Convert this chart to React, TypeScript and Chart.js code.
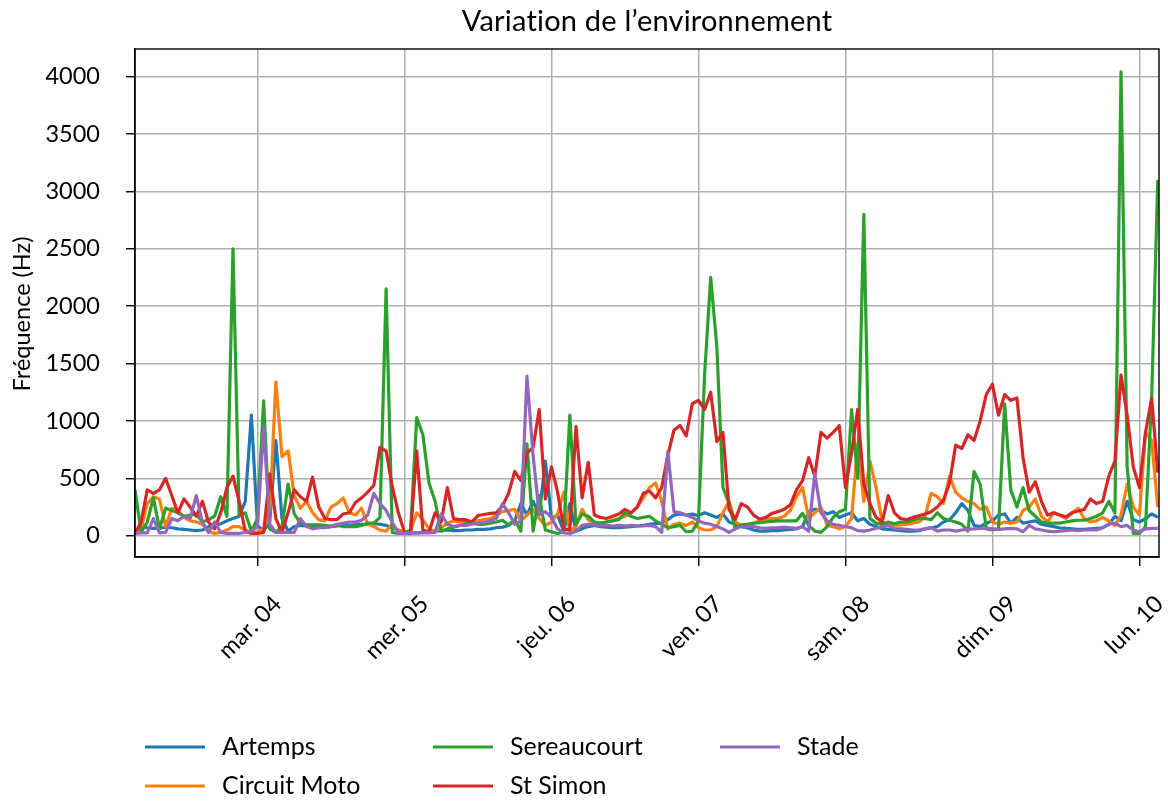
import { useEffect, useRef } from "react";
import { Chart, registerables } from "chart.js";

Chart.register(...registerables);

// Hourly samples, hour index 0 = Mon 3 March 04:00
const hours: number[] = Array.from({ length: 168 }, (_, i) => i);

const tickHours = [20, 44, 68, 92, 116, 140, 164];
const tickLabels = ["mar. 04", "mer. 05", "jeu. 06", "ven. 07", "sam. 08", "dim. 09", "lun. 10"];
const yTicks = [0, 500, 1000, 1500, 2000, 2500, 3000, 3500, 4000];

const TITLE = "Variation de l\u2019environnement";
const Y_TITLE = "Fréquence (Hz)";

const artemps = [
  40, 80, 70, 65, 65, 75, 70, 60, 55, 50, 45, 50, 80, 90, 105, 130, 150, 170, 300, 1050,
  90, 40, 120, 830, 150, 40, 80, 90, 85, 80, 75, 75, 80, 85, 90, 90, 95, 100, 100, 105,
  100, 90, 70, 50, 30, 25, 25, 30, 35, 40, 45, 50, 45, 45, 50, 50, 55, 55, 60, 70,
  75, 90, 130, 280, 180, 300, 180, 650, 150, 180, 40, 280, 40, 60, 80, 90, 80, 75, 70, 70,
  75, 80, 85, 90, 100, 105, 110, 140, 180, 190, 180, 190, 175, 200, 180, 160, 190, 120, 100, 80,
  70, 50, 40, 40, 45, 45, 50, 55, 60, 80, 210, 230, 220, 190, 210, 160, 180, 200, 130, 150,
  100, 80, 60, 55, 50, 45, 40, 40, 45, 60, 70, 80, 120, 140, 200, 280, 220, 90, 80, 110,
  130, 180, 190, 110, 160, 110, 120, 130, 100, 90, 80, 70, 65, 60, 55, 55, 60, 65, 70, 100,
  170, 130, 300, 140, 120, 150, 190, 160,
];

const circuitMoto = [
  20, 60, 280, 340, 320, 80, 240, 220, 160, 130, 120, 100, 40, 20, 30, 50, 80, 80, 50, 30,
  35, 60, 200, 1340, 690, 740, 350, 240, 300, 200, 140, 130, 250, 280, 330, 200, 180, 240, 100, 80,
  50, 40, 100, 40, 30, 40, 200, 140, 60, 40, 70, 110, 130, 120, 125, 120, 130, 140, 150, 180,
  210, 220, 230, 130, 180, 230, 150, 90, 120, 190, 380, 40, 80, 230, 140, 100, 110, 120, 135, 150,
  170, 200, 250, 330, 420, 460, 300, 60, 100, 110, 90, 120, 70, 50, 50, 80, 200, 300, 120, 90,
  90, 110, 130, 140, 150, 150, 170, 220, 340, 420, 150, 200, 250, 90, 80, 60, 80, 150, 800, 300,
  650, 420, 120, 90, 90, 95, 100, 110, 120, 170, 370, 340, 280, 520, 380, 330, 300, 280, 230, 250,
  120, 100, 120, 110, 120, 220, 250, 320, 170, 120, 200, 180, 150, 200, 240, 150, 120, 130, 160, 130,
  90, 180, 450, 250, 180, 900, 830, 250,
];

const sereaucourt = [
  400, 30, 120, 330, 60, 240, 220, 200, 170, 180, 190, 120, 140, 170, 340, 170, 2500, 180, 200, 40,
  150, 1175, 60, 30, 80, 450, 190, 110, 95, 95, 95, 90, 85, 95, 80, 80, 80, 90, 110, 110,
  160, 2150, 30, 20, 25, 50, 1030, 880, 460, 300, 40, 60, 75, 90, 105, 110, 100, 100, 110, 120,
  135, 95, 140, 40, 800, 40, 350, 50, 35, 20, 35, 1050, 100, 190, 170, 120, 110, 120, 130, 140,
  200, 170, 150, 160, 170, 130, 100, 70, 80, 90, 35, 40, 130, 1400, 2250, 1650, 420, 280, 60, 95,
  100, 110, 115, 120, 125, 130, 130, 130, 130, 195, 90, 40, 30, 80, 160, 210, 230, 1100, 500, 2800,
  150, 110, 100, 120, 105, 120, 120, 135, 150, 150, 140, 200, 150, 135, 120, 100, 40, 560, 450, 60,
  50, 60, 1150, 400, 250, 420, 220, 170, 120, 110, 110, 110, 120, 130, 135, 135, 150, 170, 200, 300,
  200, 4040, 600, 20, 20, 80, 1200, 3100,
];

const stSimon = [
  20, 120, 400, 370, 400, 500, 350, 200, 320, 250, 170, 300, 120, 60, 200, 420, 520, 300, 40, 20,
  20, 30, 540, 150, 30, 200, 400, 340, 300, 510, 250, 150, 140, 140, 190, 200, 290, 330, 380, 440,
  770, 740, 430, 200, 30, 20, 740, 50, 30, 200, 120, 420, 150, 140, 140, 120, 175, 185, 195, 200,
  260, 370, 560, 480, 720, 770, 1100, 320, 600, 380, 60, 50, 950, 330, 640, 180, 160, 150, 170, 190,
  230, 200, 250, 370, 390, 330, 420, 700, 920, 960, 870, 1150, 1180, 1100, 1250, 820, 900, 230, 140, 280,
  250, 180, 145, 160, 195, 210, 230, 270, 400, 480, 680, 520, 900, 850, 900, 960, 420, 720, 1100, 450,
  280, 160, 120, 350, 200, 150, 140, 160, 175, 190, 210, 250, 310, 460, 790, 760, 880, 830, 1000, 1230,
  1320, 1050, 1230, 1180, 1200, 680, 380, 470, 300, 180, 200, 180, 165, 200, 215, 230, 320, 280, 300, 520,
  650, 1400, 1050, 600, 420, 900, 1200, 550,
];

const stade = [
  20, 25, 25, 150, 25, 30, 150, 130, 170, 150, 350, 120, 30, 120, 30, 20, 20, 20, 30, 40,
  80, 950, 100, 30, 30, 30, 30, 150, 80, 60, 70, 70, 80, 100, 110, 120, 120, 135, 180, 370,
  280, 220, 120, 20, 20, 25, 25, 25, 25, 30, 190, 100, 80, 90, 90, 100, 110, 115, 130, 150,
  280, 200, 100, 130, 1390, 700, 190, 210, 160, 60, 25, 20, 40, 90, 100, 95, 85, 90, 85, 90,
  85, 90, 85, 85, 90, 80, 30, 730, 210, 200, 180, 160, 130, 110, 100, 80, 60, 30, 60, 80,
  80, 80, 70, 65, 70, 70, 75, 70, 65, 80, 40, 540, 200, 130, 100, 90, 80, 70, 45, 40,
  50, 65, 80, 90, 60, 60, 55, 50, 50, 60, 70, 40, 50, 50, 40, 50, 55, 60, 65, 65,
  60, 55, 60, 65, 60, 35, 90, 60, 50, 40, 35, 40, 45, 50, 45, 50, 50, 50, 70, 100,
  110, 80, 90, 50, 35, 60, 65, 65,
];

const seriesNames = ["Artemps", "Circuit Moto", "Sereaucourt", "St Simon", "Stade"];
const seriesColors = ["#1f77b4", "#ff7f0e", "#2ca02c", "#d62728", "#9467bd"];
const seriesValues = [artemps, circuitMoto, sereaucourt, stSimon, stade];

const FONT = "Lato";

const decorPlugin = {
  id: "decor",
  afterDraw(chart: any) {
    const ctx: any = chart.ctx;
    const a = chart.chartArea;
    ctx.save();
    ctx.strokeStyle = "#000";
    ctx.lineWidth = 1.4;
    ctx.strokeRect(a.left, a.top, a.right - a.left, a.bottom - a.top);

    ctx.fillStyle = "#000";
    ctx.textAlign = "center";
    ctx.textBaseline = "middle";
    ctx.font = `29px ${FONT}`;
    if ("letterSpacing" in ctx) ctx.letterSpacing = "0.2px";
    ctx.fillText(TITLE, (a.left + a.right) / 2, 22);
    if ("letterSpacing" in ctx) ctx.letterSpacing = "0px";

    ctx.save();
    ctx.translate(22, 314);
    ctx.rotate(-Math.PI / 2);
    ctx.font = `23.5px ${FONT}`;
    ctx.fillText(Y_TITLE, 0, 0);
    ctx.restore();

    // legend: 3 columns, column-major order
    const colX = [145, 433, 720];
    const rowY = [747, 786];
    ctx.font = `25px ${FONT}`;
    ctx.textAlign = "left";
    seriesNames.forEach((name, i) => {
      const col = Math.floor(i / 2);
      const row = i % 2;
      const x = colX[col];
      const y = rowY[row];
      ctx.strokeStyle = seriesColors[i];
      ctx.lineWidth = 3.2;
      ctx.beginPath();
      ctx.moveTo(x, y);
      ctx.lineTo(x + 60, y);
      ctx.stroke();
      ctx.fillStyle = "#000";
      ctx.fillText(name, x + 77, y);
    });
    ctx.restore();
  },
};

export default function App() {
  const ref = useRef<HTMLCanvasElement | null>(null);

  useEffect(() => {
    document.body.style.margin = "0";
    let chart: Chart | null = null;
    let cancelled = false;
    const build = () => {
      if (cancelled || !ref.current) return;
      const gridOpts = {
        color: "#b0b0b0",
        lineWidth: 1.5,
        tickColor: "#000",
        tickLength: 9,
        tickWidth: 1.4,
      };
      chart = new Chart(ref.current, {
        type: "line",
        data: {
          labels: hours,
          datasets: seriesNames.map((name, i) => ({
            label: name,
            data: seriesValues[i].map((v, k) => ({ x: hours[k], y: v })),
            borderColor: seriesColors[i],
            backgroundColor: seriesColors[i],
            borderWidth: 3.2,
            pointRadius: 0,
            tension: 0,
            borderJoinStyle: "round" as const,
            fill: false,
            order: seriesNames.length - 1 - i,
          })),
        },
        options: {
          animation: false,
          responsive: false,
          devicePixelRatio: 1,
          parsing: false as any,
          layout: { padding: { top: 49, right: 9, left: 0, bottom: 0 } },
          plugins: { legend: { display: false }, title: { display: false }, tooltip: { enabled: false } },
          scales: {
            x: {
              type: "linear",
              min: 0,
              max: 167.2,
              afterBuildTicks: (s: any) => {
                s.ticks = tickHours.map((v) => ({ value: v }));
              },
              afterFit: (s: any) => {
                s.height = 244;
                s.paddingLeft = 0;
                s.paddingRight = 0;
              },
              ticks: {
                autoSkip: false,
                maxRotation: 45,
                minRotation: 45,
                padding: 24,
                labelOffset: 20,
                color: "#000",
                font: { family: FONT, size: 23.5 },
                callback: (_v: any, idx: number) => tickLabels[idx],
              },
              grid: gridOpts,
              border: { color: "#000", width: 1.4 },
            },
            y: {
              min: -185,
              max: 4240,
              afterBuildTicks: (s: any) => {
                s.ticks = yTicks.map((v) => ({ value: v }));
              },
              afterFit: (s: any) => {
                s.width = 135;
              },
              ticks: {
                padding: 26,
                color: "#000",
                font: { family: FONT, size: 23.5 },
                callback: (v: any) => String(v),
              },
              grid: gridOpts,
              border: { color: "#000", width: 1.4 },
            },
          },
        },
        plugins: [decorPlugin],
      });
    };
    const fonts: any = (document as any).fonts;
    if (fonts && fonts.load) {
      Promise.all([fonts.load(`23px ${FONT}`), fonts.load(`29px ${FONT}`)]).then(build, build);
    } else {
      build();
    }
    return () => {
      cancelled = true;
      if (chart) chart.destroy();
    };
  }, []);

  return (
    <div style={{ width: 1168, height: 801, background: "#fff" }}>
      <canvas ref={ref} width={1168} height={801} style={{ display: "block" }} />
    </div>
  );
}
